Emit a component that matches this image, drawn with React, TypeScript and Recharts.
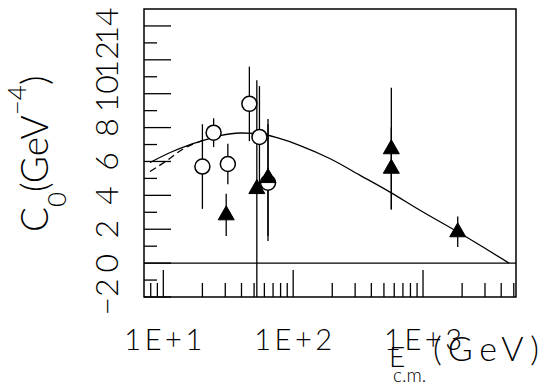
import React from 'react';
import {
  ComposedChart,
  Line,
  Scatter,
  ErrorBar,
  XAxis,
  YAxis,
  ReferenceLine,
  ReferenceArea,
} from 'recharts';

// fit curves
const solidE = [7.9, 11.3, 16.1, 20.3, 27.4, 39.1, 53.8, 79.4, 113, 193, 328, 557, 948, 1928, 4600];
const solidC = [5.94, 6.53, 7.0, 7.24, 7.53, 7.68, 7.65, 7.35, 6.94, 6.16, 5.18, 4.19, 3.12, 1.76, 0.0];
const dashE = [7.9, 10.7, 14.0, 20.3];
const dashC = [5.41, 6.06, 6.71, 7.24];

// open circles
const circleE = [20, 24.4, 31.4, 46, 55, 64];
const circleC = [5.7, 7.7, 5.85, 9.4, 7.45, 4.75];
const circleErr = [2.5, 0.85, 1.2, 2.2, 3.0, 3.45];

// filled triangles
const triE = [30.5, 52.5, 64, 570, 570, 1850];
const triC = [2.85, 4.4, 5.05, 6.75, 5.6, 1.85];
const triErr = [1.25, 6.4, 3.45, 3.6, 2.4, 0.9];

const xTicks = [8, 9, 10, 20, 30, 40, 50, 60, 70, 80, 90, 100, 200, 300, 400, 500, 600, 700, 800, 900, 1000, 2000, 3000, 4000, 5000];
const xMajor = [10, 100, 1000];
const xLabels = ['1E+1', '1E+2', '1E+3'];
const yTicks = [-2, -1, 0, 1, 2, 3, 4, 5, 6, 7, 8, 9, 10, 11, 12, 13, 14];

const FONT = 'Lato, "Liberation Sans", sans-serif';
const Y_LABEL_X = 118; // baseline of the rotated y tick numbers

const solid = solidE.map((x, i) => ({ x, y: solidC[i] }));
const dashed = dashE.map((x, i) => ({ x, y: dashC[i] }));
const circles = circleE.map((x, i) => ({ x, y: circleC[i], err: circleErr[i] }));
const triangles = triE.map((x, i) => ({ x, y: triC[i], err: triErr[i] }));

function XTick(props: any) {
  const { x, y, payload } = props;
  const idx = xMajor.indexOf(payload.value);
  const major = idx >= 0;
  return (
    <g>
      <line x1={x} x2={x} y1={y} y2={y - (major ? 27 : 14)} stroke="#000" strokeWidth={1.3} />
      {major && (
        <text x={x} y={y + 53} textAnchor="middle" fontFamily={FONT} fontWeight={300} fontSize={29} textLength={78} fill="#000">
          {xLabels[idx]}
        </text>
      )}
    </g>
  );
}

function YTick(props: any) {
  const { x, y, payload } = props;
  const v = payload.value;
  const major = v % 2 === 0;
  return (
    <g>
      <line x1={x} x2={x + (major ? 27 : 13)} y1={y} y2={y} stroke="#000" strokeWidth={1.3} />
      {major && (
        <text
          x={Y_LABEL_X}
          y={y}
          transform={`rotate(-90 ${Y_LABEL_X} ${y})`}
          textAnchor="middle"
          fontFamily={FONT}
          fontWeight={300}
          fontSize={32}
          fill="#000"
        >
          {v < 0 ? `\u2212${-v}` : String(v)}
        </text>
      )}
    </g>
  );
}

function YTitle() {
  return (
    <text
      x={48}
      y={232}
      transform="rotate(-90 48 232)"
      fontFamily={FONT}
      fontWeight={300}
      fontSize={37}
      fill="#000"
    >
      C
      <tspan fontSize={26} dy={18}>0</tspan>
      <tspan dy={-18}>(GeV</tspan>
      <tspan fontSize={26} dy={-22}>{'\u2212'}4</tspan>
      <tspan dy={22}>)</tspan>
    </text>
  );
}

function XTitle() {
  return (
    <g fontFamily={FONT} fontWeight={300} fill="#000">
      <text x={389} y={367} fontSize={28}>E</text>
      <text x={393} y={382} fontSize={19}>c.m.</text>
      <text x={433} y={361} fontSize={34} textLength={106}>(GeV)</text>
    </g>
  );
}

const circleShape = (p: any) => (
  <circle cx={p.cx} cy={p.cy} r={7.5} fill="#fff" stroke="#000" strokeWidth={1.5} />
);

const triangleShape = (p: any) => (
  <polygon
    points={`${p.cx},${p.cy - 9} ${p.cx - 8},${p.cy + 5} ${p.cx + 8},${p.cy + 5}`}
    fill="#000"
    stroke="#000"
    strokeWidth={1}
  />
);

export default function App() {
  return (
    <div style={{ position: 'absolute', left: 0, top: 0, width: 544, height: 390, background: '#fff' }}>
      <ComposedChart width={544} height={390} margin={{ top: 9, right: 28, bottom: 0, left: 0 }}>
        <XAxis
          dataKey="x"
          type="number"
          scale="log"
          domain={[7.1, 5200]}
          allowDataOverflow
          ticks={xTicks}
          interval={0}
          tick={<XTick />}
          tickLine={false}
          tickSize={0}
          tickMargin={0}
          axisLine={false}
          height={93}
          label={<XTitle />}
        />
        <YAxis
          dataKey="y"
          type="number"
          domain={[-2, 15]}
          allowDataOverflow
          ticks={yTicks}
          interval={0}
          tick={<YTick />}
          tickLine={false}
          tickSize={0}
          tickMargin={0}
          axisLine={false}
          width={144}
          label={<YTitle />}
        />
        <ReferenceArea x1={7.1} x2={5200} y1={-2} y2={15} fill="none" stroke="#000" strokeWidth={1.5} ifOverflow="visible" />
        <ReferenceLine y={0} stroke="#000" strokeWidth={1.3} />
        <Line data={dashed} dataKey="y" type="monotone" stroke="#000" strokeWidth={1.3} strokeDasharray="7 4" dot={false} isAnimationActive={false} />
        <Line data={solid} dataKey="y" type="monotone" stroke="#000" strokeWidth={1.3} dot={false} isAnimationActive={false} />
        <Scatter data={circles} dataKey="y" shape={circleShape} isAnimationActive={false}>
          <ErrorBar dataKey="err" direction="y" width={0} stroke="#000" strokeWidth={1.3} isAnimationActive={false} />
        </Scatter>
        <Scatter data={triangles} dataKey="y" shape={triangleShape} isAnimationActive={false}>
          <ErrorBar dataKey="err" direction="y" width={0} stroke="#000" strokeWidth={1.3} isAnimationActive={false} />
        </Scatter>
      </ComposedChart>
    </div>
  );
}
